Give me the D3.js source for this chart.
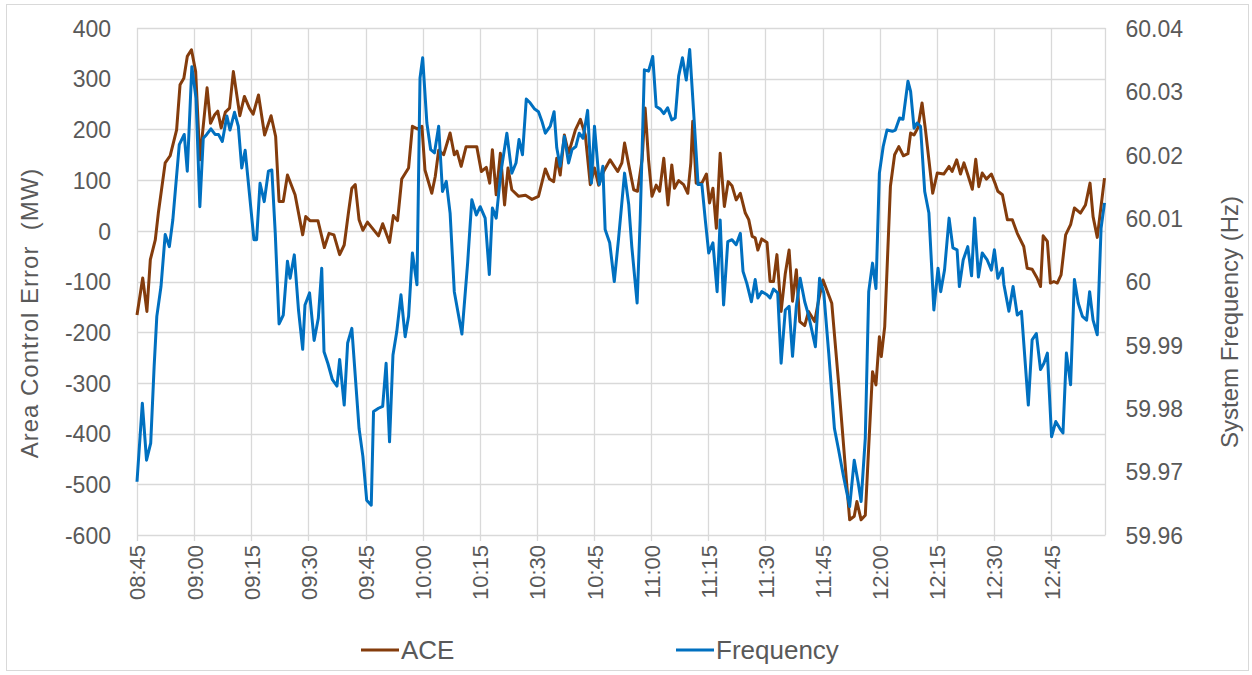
<!DOCTYPE html>
<meta charset="utf-8">
<style>
  body { margin: 0; background: #fff; }
  svg text { font-family: "Liberation Sans", Arial, sans-serif; fill: #595959; }
</style>
<svg width="1252" height="675"></svg>
<script src="https://cdn.jsdelivr.net/npm/d3@7"></script>
<script>
// minutes after 08:45 for each vertex, and the value read at that vertex
var aceMin = [0, 1.5, 2.6, 3.5, 4.8, 5.6, 7.4, 8.7, 10.4, 11.3, 12.3, 13.2, 14.3, 15.4, 16.5, 18.4, 19.3, 20.4, 21.2, 22.1,
  23.2, 24.3, 25.3, 27, 28.2, 29.5, 30.5, 31.9, 33.5, 35.2, 36.4, 37.3, 38.4, 39.5, 41.5, 43.5, 44.3, 45.4, 47.5, 49.2,
  50.4, 51.7, 53.2, 54.4, 55.5, 56.4, 57.3, 58.3, 59.3, 60.5, 63.4, 64.5, 66.3, 67.3, 68.4, 69.5, 71.3, 72.3, 73.6, 74.8,
  75.6, 77.4, 78.3, 79.2, 80.5, 82.2, 83.3, 84, 85.1, 86.4, 89.2, 90.4, 91.7, 92.6, 93.3, 94.3, 95.4, 96.5, 97.4, 98.4,
  100.2, 102, 103.7, 105.4, 107.2, 108.3, 109.4, 110.2, 111.1, 112.2, 113.3, 115.1, 116.4, 117.7, 119, 120.1, 121.2, 122.5, 124.2, 126.2,
  127.3, 128, 129.1, 130.4, 131.4, 132.6, 133.4, 134.3, 135.2, 136.3, 137.2, 138.3, 139.4, 140.4, 141.1, 142.2, 143.5, 144.6, 145.4, 145.9,
  146.8, 148.3, 149.5, 150.3, 151.2, 152.1, 153.1, 154.2, 155.2, 156.2, 157.3, 158.4, 159.7, 160.6, 161.5, 162.3, 163, 164, 165.4, 166.2,
  167.1, 168, 169.1, 170.2, 171.2, 172.1, 173.1, 174, 175.3, 176.3, 177.9, 179, 180.1, 182.4, 184.2, 185.8, 187.1, 188.3, 189, 190.1,
  191.2, 192.1, 193.1, 194, 194.9, 195.4, 196.3, 197.8, 198.9, 200, 201.2, 202.4, 203.1, 204, 205, 206.1, 207, 207.9, 208.9, 210.1,
  211.8, 213.2, 214, 215.2, 216.2, 217.1, 218.1, 219.3, 220.2, 221, 221.9, 223, 224.3, 225.4, 226, 227.2, 228.5, 229.8, 231.1, 232.8,
  233.7, 235, 236.3, 237.2, 237.9, 239, 239.8, 240.7, 241.6, 242.6, 243.8, 245.1, 246.1, 247.7, 249, 250.2, 251, 252.1, 254];
var aceVal = [-166, -93, -159, -57, -18, 35, 134, 148, 199, 288, 301, 344, 357, 314, 140, 282, 212, 229, 236, 203,
  234, 242, 314, 227, 265, 242, 230, 268, 189, 227, 186, 58, 58, 110, 71, -8, 28, 20, 20, -33,
  -5, -8, -47, -28, 35, 84, 91, 22, 1, 17, -10, 14, -23, 30, 20, 102, 124, 206, 201, 206,
  120, 74, 107, 159, 150, 193, 150, 157, 127, 166, 166, 117, 125, 94, 160, 71, 153, 51, 124, 81,
  68, 70, 62, 68, 122, 102, 97, 143, 110, 189, 153, 199, 220, 189, 91, 124, 90, 117, 140, 117,
  134, 173, 130, 81, 78, 140, 242, 140, 68, 90, 78, 143, 51, 130, 84, 99, 91, 74, 134, 216,
  94, 94, 112, 55, 84, 5, 153, 48, 97, 89, 61, 74, 35, 22, -11, -14, -38, -16, -23, -100,
  -100, -47, -159, -84, -38, -139, -77, -179, -187, -159, -179, -135, -97, -143, -301, -452, -570, -563, -534, -570,
  -561, -426, -278, -304, -209, -248, -189, 88, 150, 166, 148, 152, 193, 189, 203, 252, 199, 140, 74, 114,
  112, 127, 117, 140, 112, 134, 111, 82, 141, 87, 114, 102, 112, 91, 78, 71, 22, 22, -5, -31,
  -74, -76, -93, -110, -10, -21, -103, -100, -103, -87, -8, 12, 45, 35, 51, 94, 28, -13, 104];

var freqMin = [0, 1.4, 2.5, 3.6, 4.5, 5.2, 6.3, 7.4, 8.5, 9.4, 11.1, 12.4, 13.2, 14.4, 15.5, 16.5, 17.4, 18.3, 19.4, 20.5,
  21.4, 22.4, 23.6, 24.4, 25.6, 26.6, 27.5, 28.4, 29.2, 30.7, 31.4, 32.3, 33.4, 34.5, 35.4, 36.3, 37.3, 38.4, 39.5, 40.2,
  41.3, 42.4, 43.5, 44.1, 45.3, 46.5, 47.6, 48.5, 49.1, 50.1, 51.3, 52.5, 53.2, 54.4, 55.3, 56.4, 58.3, 59.3, 60.3, 61.5,
  62.1, 63.4, 64.5, 65.4, 66.3, 67.2, 68.2, 69.3, 70.4, 71.3, 72.3, 73.5, 74.3, 75, 76.1, 77.1, 78.1, 79.2, 80.2, 81.2,
  82.2, 83.3, 85.3, 86.8, 87.9, 89.1, 90.1, 91.4, 92.5, 93.3, 94.3, 95.5, 97.1, 98.4, 99.5, 100.3, 101.2, 102.2, 103.2, 104.4,
  105.4, 106.3, 107.2, 108.5, 109.5, 110.2, 111.1, 112.2, 113.3, 114.2, 115.2, 116.1, 117.1, 118.3, 119.3, 120.1, 121.4, 122.3, 122.9, 124.1,
  125.3, 126.4, 128, 129.1, 129.9, 131.3, 132.1, 133.2, 134.3, 135.4, 136.3, 137.4, 138.3, 139.3, 140.4, 141.3, 142.2, 143.2, 144.2, 145.1,
  146.1, 147.3, 148.3, 149.2, 150.1, 151.2, 152.3, 153.1, 154, 155.1, 156.2, 157.3, 158.4, 159.1, 160.1, 161.3, 162.3, 163, 164, 165.4,
  166.2, 167.1, 168.2, 169.1, 170.2, 171.2, 172.1, 173.1, 174.1, 175.3, 176.3, 178.1, 179.2, 180.3, 181.6, 183.1, 184.2, 185.5, 187.1, 188.3,
  189.3, 190.1, 191.2, 192.1, 193.1, 194, 194.9, 195.9, 196.9, 198.3, 199.1, 200.2, 201.1, 202.4, 203.1, 204, 204.8, 205.7, 206.8, 207.9,
  209.2, 210.3, 211, 212, 213.2, 214.2, 215.3, 215.9, 216.9, 218.1, 219.1, 219.9, 220.9, 221.9, 223.2, 224.3, 225.1, 226, 227.2, 227.6,
  228.9, 230, 231.1, 232.2, 234, 235, 236.1, 237.2, 238.1, 239, 240.1, 241.2, 242.3, 243.1, 244, 245.1, 246.1, 247.1, 248.2, 249.3,
  250.1, 251, 252.1, 253.1, 254];
var freqVal = [59.9684, 59.9808, 59.9718, 59.9745, 59.9866, 59.9945, 59.9992, 60.0074, 60.0055, 60.0097, 60.0216, 60.0232, 60.0174, 60.0339, 60.0289, 60.0118, 60.0226, 60.0232, 60.0241, 60.0232,
  60.0232, 60.0221, 60.0261, 60.0239, 60.0267, 60.0245, 60.0179, 60.0207, 60.0158, 60.0066, 60.0066, 60.0155, 60.0126, 60.0174, 60.0176, 60.0076, 59.9933, 59.9947, 60.0032, 60.0005,
  60.0042, 59.9955, 59.9893, 59.9963, 59.9982, 59.9907, 59.9942, 60.0021, 59.9889, 59.9871, 59.9845, 59.9835, 59.9877, 59.9805, 59.9903, 59.9926, 59.9768, 59.9724, 59.9655, 59.9647,
  59.9795, 59.9800, 59.9803, 59.9871, 59.9747, 59.9884, 59.9921, 59.9979, 59.9913, 59.9945, 60.0045, 59.9995, 60.0321, 60.0353, 60.0250, 60.0208, 60.0203, 60.0245, 60.0142, 60.0158,
  60.0108, 59.9984, 59.9917, 60.0029, 60.0129, 60.0105, 60.0118, 60.0100, 60.0011, 60.0116, 60.0100, 60.0171, 60.0234, 60.0171, 60.0187, 60.0224, 60.0200, 60.0288, 60.0282, 60.0272,
  60.0268, 60.0253, 60.0234, 60.0245, 60.0268, 60.0211, 60.0182, 60.0229, 60.0187, 60.0208, 60.0213, 60.0234, 60.0226, 60.0270, 60.0155, 60.0245, 60.0153, 60.0182, 60.0082, 60.0061,
  60.0000, 60.0066, 60.0171, 60.0121, 60.0055, 59.9966, 60.0097, 60.0334, 60.0332, 60.0355, 60.0276, 60.0272, 60.0265, 60.0274, 60.0255, 60.0258, 60.0324, 60.0353, 60.0318, 60.0366,
  60.0271, 60.0153, 60.0153, 60.0097, 60.0045, 60.0061, 59.9984, 60.0097, 59.9963, 60.0063, 60.0066, 60.0058, 60.0076, 60.0016, 59.9997, 59.9968, 60.0003, 59.9974, 59.9984, 59.9979,
  59.9974, 59.9988, 59.9982, 59.9871, 59.9955, 59.9961, 59.9882, 59.9961, 60.0005, 59.9968, 59.9947, 59.9897, 60.0005, 59.9982, 59.9887, 59.9768, 59.9734, 59.9692, 59.9645, 59.9718,
  59.9684, 59.9653, 59.9753, 59.9984, 60.0029, 59.9989, 60.0171, 60.0213, 60.0239, 60.0237, 60.0239, 60.0258, 60.0256, 60.0316, 60.0300, 60.0242, 60.0250, 60.0245, 60.0142, 60.0108,
  59.9955, 60.0021, 59.9984, 60.0018, 60.0100, 60.0053, 60.0050, 59.9992, 60.0034, 60.0055, 60.0009, 60.0100, 60.0007, 60.0045, 60.0034, 60.0018, 60.0050, 60.0005, 60.0021, 59.9995,
  59.9953, 59.9992, 59.9947, 59.9953, 59.9805, 59.9908, 59.9918, 59.9861, 59.9871, 59.9887, 59.9755, 59.9779, 59.9768, 59.9761, 59.9887, 59.9837, 60.0003, 59.9966, 59.9945, 59.9939,
  59.9984, 59.9939, 59.9916, 60.0084, 60.0124];

var timeLabels = ["08:45", "09:00", "09:15", "09:30", "09:45", "10:00", "10:15", "10:30", "10:45",
  "11:00", "11:15", "11:30", "11:45", "12:00", "12:15", "12:30", "12:45"];
var aceTicks = [-600, -500, -400, -300, -200, -100, 0, 100, 200, 300, 400];
var freqTicks = [59.96, 59.97, 59.98, 59.99, 60, 60.01, 60.02, 60.03, 60.04];

var svg = d3.select("svg"),
    margin = {top: 28, right: 147, bottom: 140, left: 137},
    width = +svg.attr("width"),
    height = +svg.attr("height");

var grid = "#d9d9d9";

// outer chart border
svg.append("rect")
    .attr("x", 6.5).attr("y", 4.5)
    .attr("width", 1242).attr("height", 666)
    .attr("fill", "none").attr("stroke", grid);

var x = d3.scaleLinear().domain([0, 254]).range([margin.left, width - margin.right - 0.5]);
var yAce = d3.scaleLinear().domain([-600, 400]).range([height - margin.bottom, margin.top]);
var yFreq = d3.scaleLinear().domain([59.96, 60.04]).range([height - margin.bottom, margin.top]);

var labelMin = timeLabels.map(function(d, i) { return i * 15; });

// horizontal grid
svg.append("g").selectAll("line")
    .data(aceTicks)
    .enter().append("line")
    .attr("x1", margin.left).attr("x2", x(254) + 1)
    .attr("y1", function(d) { return Math.round(yAce(d)) + 0.5; })
    .attr("y2", function(d) { return Math.round(yAce(d)) + 0.5; })
    .attr("stroke", grid).attr("stroke-width", 1.3);

// vertical grid, with small ticks below the plot
svg.append("g").selectAll("line")
    .data(labelMin.concat([254]))
    .enter().append("line")
    .attr("x1", function(d) { return Math.round(x(d)) + 0.5; })
    .attr("x2", function(d) { return Math.round(x(d)) + 0.5; })
    .attr("y1", margin.top)
    .attr("y2", function(d) { return d === 254 ? yAce(-600) : yAce(-600) + 6; })
    .attr("stroke", grid).attr("stroke-width", 1.3);

// left axis
var leftAxis = svg.append("g")
    .attr("transform", "translate(" + (margin.left - 23) + ",0)")
    .call(d3.axisLeft(yAce).tickValues(aceTicks).tickSize(0).tickFormat(function(d) { return String(d); }));
leftAxis.select(".domain").remove();
leftAxis.selectAll("text").style("font-size", "23px").attr("dy", "0.36em");

// right axis
var rightAxis = svg.append("g")
    .attr("transform", "translate(" + (x(254) + 18) + ",0)")
    .call(d3.axisRight(yFreq).tickValues(freqTicks).tickSize(0).tickFormat(function(d) { return String(+d.toFixed(2)); }));
rightAxis.select(".domain").remove();
rightAxis.selectAll("text").style("font-size", "23px").attr("dy", "0.36em");

// bottom axis (rotated labels)
var bottomAxis = svg.append("g")
    .attr("transform", "translate(0," + (yAce(-600) + 10) + ")")
    .call(d3.axisBottom(x).tickValues(labelMin).tickSize(0).tickFormat(function(d, i) { return timeLabels[i]; }));
bottomAxis.select(".domain").remove();
bottomAxis.selectAll("text")
    .style("font-size", "22px")
    .attr("transform", "rotate(-90)")
    .attr("text-anchor", "end")
    .attr("x", 0).attr("y", 0)
    .attr("dx", 0).attr("dy", "0.36em");

// axis titles
svg.append("text")
    .attr("transform", "translate(38,313) rotate(-90)")
    .attr("text-anchor", "middle")
    .style("font-size", "24px")
    .style("letter-spacing", "1px")
    .style("white-space", "pre")
    .text("Area Control Error  (MW)");

svg.append("text")
    .attr("transform", "translate(1238,322) rotate(-90)")
    .attr("text-anchor", "middle")
    .style("font-size", "24px")
    .text("System Frequency (Hz)");

// series
var aceData = aceMin.map(function(m, i) { return [m, aceVal[i]]; });
var freqData = freqMin.map(function(m, i) { return [m, freqVal[i]]; });

svg.append("path")
    .datum(aceData)
    .attr("fill", "none")
    .attr("stroke", "#843c0c")
    .attr("stroke-width", 3)
    .attr("stroke-linejoin", "round")
    .attr("d", d3.line().x(function(d) { return x(d[0]); }).y(function(d) { return yAce(d[1]); }));

svg.append("path")
    .datum(freqData)
    .attr("fill", "none")
    .attr("stroke", "#0070c0")
    .attr("stroke-width", 3)
    .attr("stroke-linejoin", "round")
    .attr("d", d3.line().x(function(d) { return x(d[0]); }).y(function(d) { return yFreq(d[1]); }));

// legend
var legend = [{name: "ACE", color: "#843c0c", x: 361}, {name: "Frequency", color: "#0070c0", x: 676}];
var lg = svg.append("g").selectAll("g")
    .data(legend)
    .enter().append("g")
    .attr("transform", function(d) { return "translate(" + d.x + ",650)"; });
lg.append("line")
    .attr("x1", 0).attr("x2", 38)
    .attr("stroke", function(d) { return d.color; })
    .attr("stroke-width", 3);
lg.append("text")
    .attr("x", 40)
    .attr("dy", "0.36em")
    .style("font-size", "26px")
    .text(function(d) { return d.name; });
</script>
